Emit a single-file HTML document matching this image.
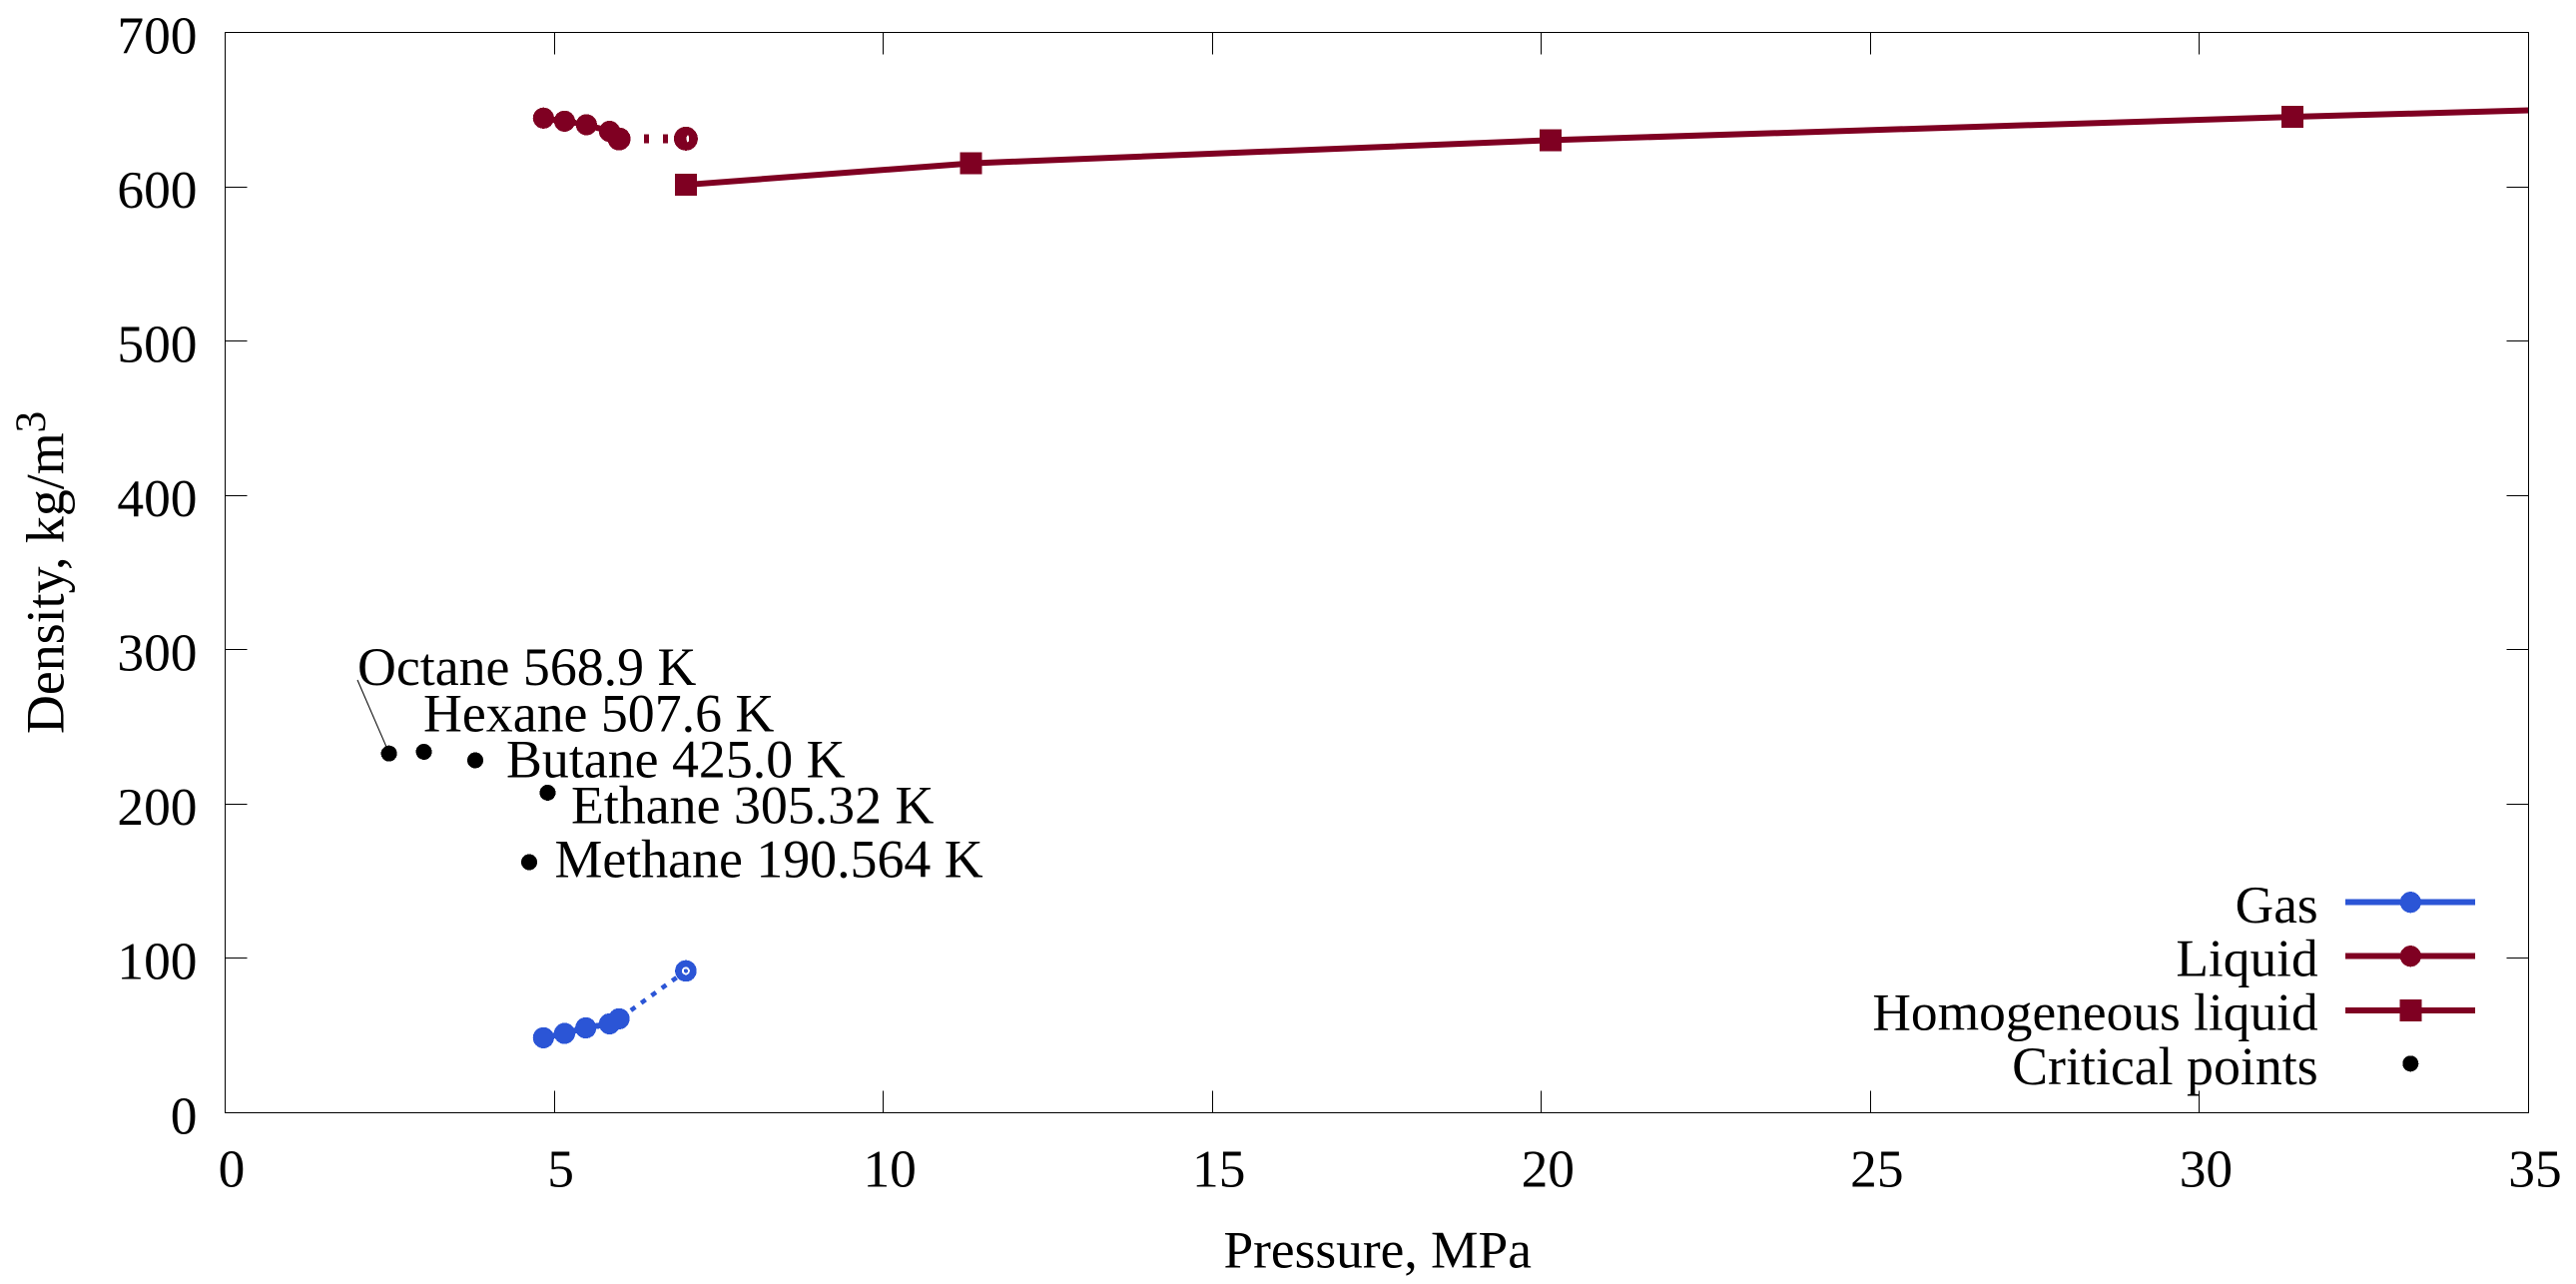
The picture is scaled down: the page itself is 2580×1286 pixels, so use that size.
<!DOCTYPE html>
<html lang="en">
<head>
<meta charset="utf-8">
<title>Density vs Pressure</title>
<style>
html,body{margin:0;padding:0;background:#fff;width:2580px;height:1286px;overflow:hidden}
svg{display:block}
text{font-family:"Liberation Serif",serif;font-size:53.4px;fill:#000}
.wide{font-size:53.85px}
.crisp{shape-rendering:crispEdges}
</style>
</head>
<body>
<svg id="chart" xmlns="http://www.w3.org/2000/svg" width="2580" height="1286" viewBox="0 0 2580 1286">
  <rect x="0" y="0" width="2580" height="1286" fill="#fff"/>
  <g id="ticks" class="crisp" stroke="#000" stroke-width="1" fill="none"></g>
  <g id="tickLabels"></g>
  <g id="series"></g>
  <rect class="crisp" x="225.5" y="32.5" width="2307" height="1082" fill="none" stroke="#000" stroke-width="1"/>
  <text x="1379.7" y="1269.3" text-anchor="middle">Pressure, MPa</text>
  <text class="wide" transform="translate(63.3 735) rotate(-90)" x="0" y="0">Density, kg/m<tspan font-size="43" dy="-18.3">3</tspan></text>

  <text class="wide" x="358" y="686">Octane 568.9 K</text>
  <text class="wide" x="424" y="732.7">Hexane 507.6 K</text>
  <text class="wide" x="507" y="778.7">Butane 425.0 K</text>
  <text class="wide" x="572" y="824.7">Ethane 305.32 K</text>
  <text class="wide" x="555.5" y="878.7">Methane 190.564 K</text>

  <g text-anchor="end">
    <g>
      <text x="2321.7" y="924">Gas</text>
      <line class="crisp" x1="2349" x2="2479" y1="903.7" y2="903.7" stroke="#2b55d6" stroke-width="6"/>
      <circle class="crisp" cx="2414.3" cy="903.7" r="10.6" fill="#2b55d6"/>
    </g>
    <g>
      <text x="2321.7" y="977.7">Liquid</text>
      <line class="crisp" x1="2349" x2="2479" y1="957.7" y2="957.7" stroke="#7f0022" stroke-width="6"/>
      <circle class="crisp" cx="2414.3" cy="957.7" r="10.6" fill="#7f0022"/>
    </g>
    <g>
      <text x="2321.7" y="1031.7">Homogeneous liquid</text>
      <line class="crisp" x1="2349" x2="2479" y1="1012" y2="1012" stroke="#7f0022" stroke-width="6"/>
      <rect class="crisp" x="2403.3" y="1001" width="22" height="22" fill="#7f0022"/>
    </g>
    <g>
      <text class="wide" x="2321.7" y="1086">Critical points</text>
      <circle class="crisp" cx="2414.3" cy="1065.3" r="8" fill="#000"/>
    </g>
  </g>
</svg>
<script>
// Axis ticks
const xTickValues = [0, 5, 10, 15, 20, 25, 30, 35];
const yTickValues = [0, 100, 200, 300, 400, 500, 600, 700];

// Gas branch: saturated points, then the dotted link to the open point
const gasPressure = [4.837, 5.157, 5.48, 5.84, 5.986];
const gasDensity = [48.6, 51.4, 55, 57.6, 60.9];
const gasOpenPressure = [7.0];
const gasOpenDensity = [91.9];

// Liquid branch
const liquidPressure = [4.837, 5.157, 5.49, 5.84, 5.986];
const liquidDensity = [644.5, 642.5, 640.2, 635.9, 631];
const liquidOpenPressure = [7.0];
const liquidOpenDensity = [631.2];

// Homogeneous liquid (markers), plus where the line leaves the plot
const homogPressure = [7.0, 11.33, 20.14, 31.41];
const homogDensity = [601.3, 615.2, 630.2, 645.3];
const homogEndPressure = [35];
const homogEndDensity = [649.5];

// Critical points: octane, hexane, butane, ethane, methane
const criticalPressure = [2.49, 3.02, 3.80, 4.90, 4.62];
const criticalDensity = [232.8, 233.9, 228.4, 207.4, 162.4];

const SVG_NS = 'http://www.w3.org/2000/svg';
const X_LEFT = 225.5, X_RIGHT = 2532.5, Y_TOP = 32.5, Y_BOTTOM = 1114.5;
const X_MAX = 35, Y_MAX = 700;
const GAS_COLOR = '#2b55d6', LIQUID_COLOR = '#7f0022';

function xScale(v) { return X_LEFT + (v / X_MAX) * (X_RIGHT - X_LEFT); }
function yScale(v) { return Y_BOTTOM - (v / Y_MAX) * (Y_BOTTOM - Y_TOP); }
function make(tag, attrs) {
  const el = document.createElementNS(SVG_NS, tag);
  for (const k in attrs) el.setAttribute(k, attrs[k]);
  return el;
}
function pathFrom(xs, ys) {
  return xs.map((x, i) => (i ? 'L' : 'M') + xScale(x) + ' ' + yScale(ys[i])).join(' ');
}

const ticks = document.getElementById('ticks');
const tickLabels = document.getElementById('tickLabels');
const series = document.getElementById('series');

// X ticks, mirrored along the top edge
xTickValues.forEach(v => {
  const x = Math.floor(xScale(v)) + 0.5;
  const bottom = make('line', {x1: x, x2: x, y1: Y_BOTTOM, y2: Y_BOTTOM - 22});
  
  
  ticks.appendChild(bottom);
  const top = make('line', {x1: x, x2: x, y1: Y_TOP, y2: Y_TOP + 22});
  
  
  ticks.appendChild(top);
  const label = make('text', {x: xScale(v) + 6.5, y: 1188.3, 'text-anchor': 'middle'});
  
  
  label.textContent = v;
  tickLabels.appendChild(label);
});

// Y ticks, mirrored along the right edge
yTickValues.forEach(v => {
  const y = Math.floor(yScale(v)) + 0.5;
  const left = make('line', {x1: X_LEFT, x2: X_LEFT + 22, y1: y, y2: y});
  
  
  ticks.appendChild(left);
  const right = make('line', {x1: X_RIGHT, x2: X_RIGHT - 22, y1: y, y2: y});
  
  
  ticks.appendChild(right);
  const label = make('text', {x: 197.5, y: yScale(v) + 20.8, 'text-anchor': 'end'});
  
  
  label.textContent = v;
  tickLabels.appendChild(label);
});

// Gas solid line
const gasLine = make('path', {d: pathFrom(gasPressure, gasDensity), fill: 'none', stroke: GAS_COLOR, 'stroke-width': 6, class: 'crisp'});


series.appendChild(gasLine);

// Gas dotted link
const gasDots = make('path', {
  d: pathFrom([gasPressure[gasPressure.length - 1], gasOpenPressure[0]], [gasDensity[gasDensity.length - 1], gasOpenDensity[0]]),
  fill: 'none', stroke: GAS_COLOR, 'stroke-width': 4.5, 'stroke-dasharray': '5.5 7.2', 'stroke-dashoffset': 10.9
});


series.appendChild(gasDots);

// Gas markers
gasPressure.forEach((p, i) => {
  const c = make('circle', {cx: xScale(p), cy: yScale(gasDensity[i]), r: 10.6, fill: GAS_COLOR, class: 'crisp'});
  
  
  series.appendChild(c);
});

// Gas open marker
gasOpenPressure.forEach((p, i) => {
  const g = make('g', {});
  
  
  g.appendChild(make('circle', {cx: xScale(p), cy: yScale(gasOpenDensity[i]), r: 10.8, fill: GAS_COLOR, class: 'crisp'}));
  g.appendChild(make('circle', {cx: xScale(p), cy: yScale(gasOpenDensity[i]), r: 4, fill: '#fff', class: 'crisp'}));
  g.appendChild(make('circle', {cx: xScale(p), cy: yScale(gasOpenDensity[i]), r: 2, fill: GAS_COLOR, class: 'crisp'}));
  series.appendChild(g);
});

// Liquid solid line
const liquidLine = make('path', {d: pathFrom(liquidPressure, liquidDensity), fill: 'none', stroke: LIQUID_COLOR, 'stroke-width': 6, class: 'crisp'});


series.appendChild(liquidLine);

// Liquid dotted link
const liquidDots = make('path', {
  d: pathFrom([liquidPressure[liquidPressure.length - 1], liquidOpenPressure[0]], [liquidDensity[liquidDensity.length - 1], liquidOpenDensity[0]]),
  fill: 'none', stroke: LIQUID_COLOR, 'stroke-width': 9, 'stroke-dasharray': '5 14', 'stroke-dashoffset': 13.2, class: 'crisp'
});


series.appendChild(liquidDots);

// Liquid markers
liquidPressure.forEach((p, i) => {
  const c = make('circle', {cx: xScale(p), cy: yScale(liquidDensity[i]), r: i === liquidPressure.length - 1 ? 11.5 : 10.6, fill: LIQUID_COLOR, class: 'crisp'});
  
  
  series.appendChild(c);
});

// Liquid open marker
liquidOpenPressure.forEach((p, i) => {
  const g = make('g', {});
  
  
  g.appendChild(make('circle', {cx: xScale(p), cy: yScale(liquidOpenDensity[i]), r: 12, fill: LIQUID_COLOR, class: 'crisp'}));
  g.appendChild(make('ellipse', {cx: xScale(p) + 2, cy: yScale(liquidOpenDensity[i]), rx: 1.3, ry: 3.5, fill: '#fff', class: 'crisp'}));
  series.appendChild(g);
});

// Homogeneous liquid line
const homogLine = make('path', {d: pathFrom(homogPressure.concat(homogEndPressure), homogDensity.concat(homogEndDensity)), fill: 'none', stroke: LIQUID_COLOR, 'stroke-width': 6});


series.appendChild(homogLine);

// Homogeneous liquid markers
homogPressure.forEach((p, i) => {
  const s = make('rect', {x: xScale(p) - 11, y: yScale(homogDensity[i]) - 11, width: 22, height: 22, fill: LIQUID_COLOR, class: 'crisp'});
  
  
  series.appendChild(s);
});

// Critical points
criticalPressure.forEach((p, i) => {
  const c = make('circle', {cx: xScale(p), cy: yScale(criticalDensity[i]), r: 8, fill: '#000', class: 'crisp'});
  
  
  series.appendChild(c);
});

// Pointer line from the Octane label to its critical point
const pointer = make('line', {x1: 358, y1: 681, x2: xScale(criticalPressure[0]) - 3, y2: yScale(criticalDensity[0]) - 7.5, stroke: '#000', 'stroke-width': 1});


series.appendChild(pointer);
</script>
</body>
</html>
